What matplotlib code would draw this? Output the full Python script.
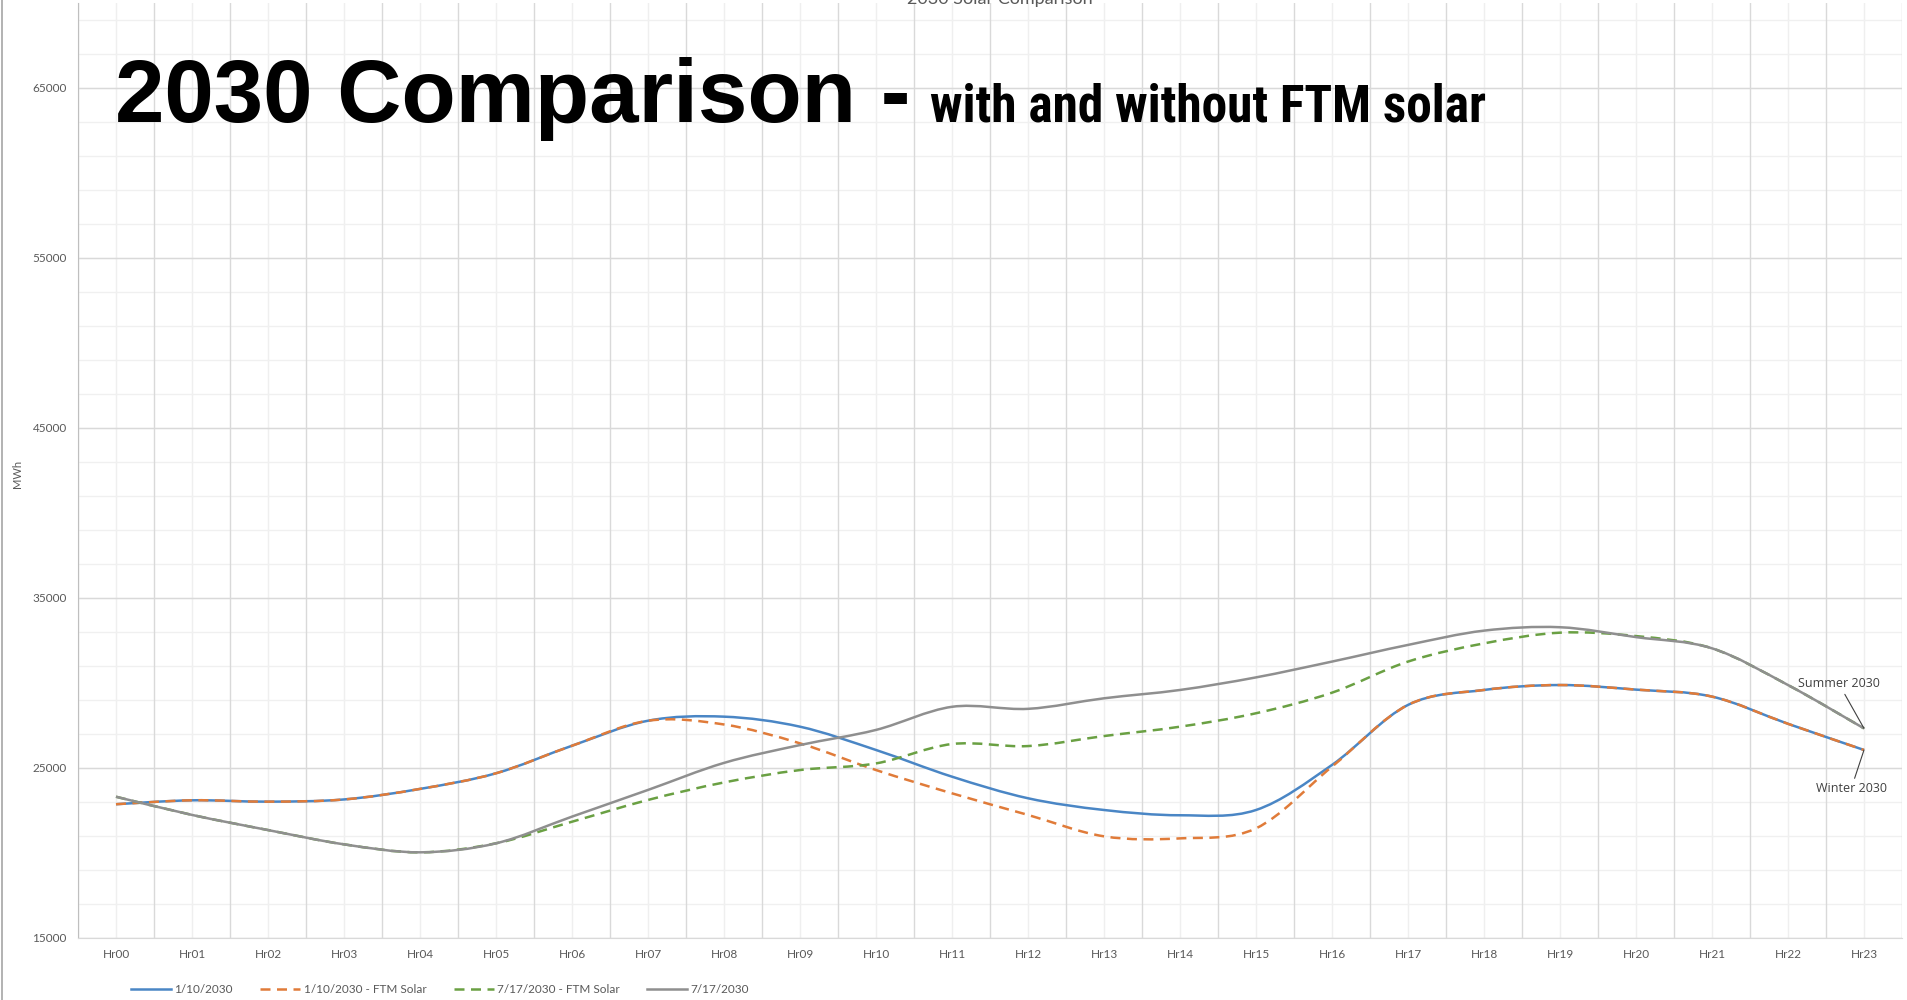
import numpy as np
import matplotlib.pyplot as plt
from matplotlib.path import Path
from matplotlib.patches import PathPatch
from matplotlib.lines import Line2D

hours = ['Hr%02d' % h for h in range(24)]

winter = [22870, 23100, 23020, 23150, 23770, 24690, 26310, 27780, 28020, 27430, 26060, 24490,
          23220, 22530, 22220, 22530, 25180, 28710, 29590, 29880, 29610, 29200, 27600, 26060]
winter_ftm = [22870, 23100, 23020, 23150, 23770, 24690, 26310, 27780, 27560, 26450, 24880, 23510,
              22240, 20980, 20860, 21450, 25080, 28710, 29590, 29880, 29610, 29200, 27600, 26060]
summer_ftm = [23310, 22240, 21350, 20510, 20040, 20570, 21840, 23120, 24150, 24880, 25270, 26410,
              26290, 26880, 27430, 28220, 29430, 31260, 32330, 32960, 32760, 32040, 29880, 27330]
summer = [23310, 22240, 21350, 20510, 20040, 20570, 22140, 23710, 25300, 26350, 27240, 28600,
          28480, 29100, 29590, 30330, 31260, 32240, 33080, 33280, 32700, 32040, 29880, 27330]

series = [
    ('1/10/2030', winter, '#4A86C5', '-'),
    ('1/10/2030 - FTM Solar', winter_ftm, '#E07B39', (0, (4, 2.6))),
    ('7/17/2030 - FTM Solar', summer_ftm, '#6AA043', (0, (4, 2.6))),
    ('7/17/2030', summer, '#8F8F8F', '-'),
]

small_font = ['Lato', 'DejaVu Sans']


def smooth_path(x, y):
    # smoothed line: one cubic Bezier segment between neighbouring points
    pts = np.column_stack([x, y]).astype(float)
    ext = np.vstack([pts[0], pts, pts[-1]])
    verts = [pts[0]]
    codes = [Path.MOVETO]
    for i in range(len(pts) - 1):
        p0, p1, p2, p3 = ext[i], ext[i + 1], ext[i + 2], ext[i + 3]
        verts += [p1 + (p2 - p0) / 6, p2 - (p3 - p1) / 6, p2]
        codes += [Path.CURVE4] * 3
    return Path(verts, codes)


fig = plt.figure(figsize=(19.07, 10.0), dpi=100)
ax = fig.add_axes([78 / 1907, 62 / 1000, 1824 / 1907, 935 / 1000])

x = np.arange(len(hours))
handles = []
for label, vals, color, ls in series:
    patch = PathPatch(smooth_path(x, vals), fill=False, edgecolor=color, lw=1.8,
                      linestyle=ls, capstyle='butt', zorder=3)
    ax.add_patch(patch)
    handles.append(Line2D([], [], color=color, lw=1.8, linestyle=ls, label=label))

ax.set_xlim(-0.5, 23.5)
ax.set_ylim(15000, 70000)

ax.set_xticks(x)
ax.set_xticklabels(hours)
ax.set_yticks(np.arange(15000, 70001, 10000))
ax.tick_params(which='both', length=0)
ax.tick_params(axis='both', pad=8, labelsize=8.5, labelcolor='#595959')
for lab in ax.get_xticklabels() + ax.get_yticklabels():
    lab.set_family(small_font)

# vertical grid: darker at category edges, lighter at the centres
ax.grid(False)
for xv in np.arange(-0.5, 24, 1.0):
    ax.axvline(xv, color='#d9d9d9', lw=1.0, zorder=1)
for xv in x:
    ax.axvline(xv, color='#efefef', lw=1.0, zorder=0.5)
for yv in np.arange(15000, 70001, 2000):
    ax.axhline(yv, color='#f0f0f0', lw=1.0, zorder=0.5)
for yv in np.arange(15000, 70001, 10000):
    ax.axhline(yv, color='#d9d9d9', lw=1.0, zorder=1)

for side in ['top', 'right']:
    ax.spines[side].set_visible(False)
ax.spines['left'].set_color('#bfbfbf')
ax.spines['bottom'].set_color('#d9d9d9')

ax.annotate('Summer 2030', xy=(23, summer[-1]), xytext=(22.67, 29950),
            ha='center', va='center', fontsize=9, color='#404040', family='Open Sans',
            arrowprops=dict(arrowstyle='-', color='#404040', lw=0.8, shrinkA=1, shrinkB=0),
            zorder=5)
ax.annotate('Winter 2030', xy=(23, winter[-1]), xytext=(22.83, 23770),
            ha='center', va='center', fontsize=9, color='#404040', family='Open Sans',
            arrowprops=dict(arrowstyle='-', color='#404040', lw=0.8, shrinkA=1, shrinkB=0),
            zorder=5)

fig.legend(handles=handles, loc='lower left', bbox_to_anchor=(120 / 1907, -0.006), ncol=4,
           frameon=False, prop={'family': small_font, 'size': 8.5}, labelcolor='#595959',
           handlelength=3.4, handletextpad=0.3, columnspacing=2.3)

fig.text(18 / 1907, 0.526, 'MWh', rotation=90, ha='center', va='center',
         fontsize=8, color='#595959', family=small_font)

fig.text(1000 / 1907, 0.996, '2030 Solar Comparison', ha='center', va='baseline',
         fontsize=13, color='#595959', family=small_font)

fig.text(115 / 1907, 0.878, '2030 Comparison -', ha='left', va='baseline',
         fontsize=64, fontweight='bold', color='black', family='Liberation Sans')
fig.text(930 / 1907, 0.878, 'with and without FTM solar', ha='left', va='baseline',
         fontsize=37, fontweight='bold', color='black',
         family=['Roboto Condensed', 'Liberation Sans'])

fig.add_artist(Line2D([0.0008, 0.0008], [0, 1], transform=fig.transFigure,
                      color='#a6a6a6', lw=1.2))

fig.savefig('out.png', dpi=100, facecolor='white')
